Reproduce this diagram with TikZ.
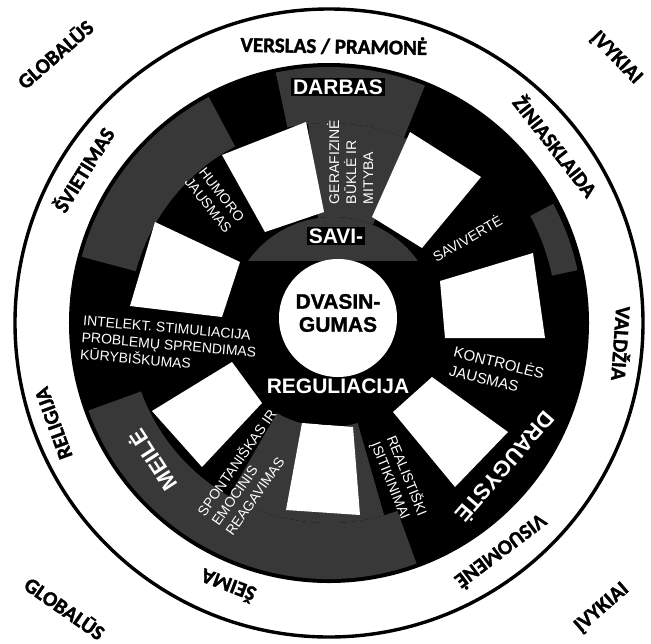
\documentclass[tikz,border=0pt]{standalone}
\usepackage{fontspec}
\setmainfont{Liberation Sans}
\newfontfamily\ringfont{Carlito}[BoldFeatures={FakeBold=1.6}]
\newfontfamily\heavyfont{Liberation Sans}[BoldFeatures={FakeBold=1.4}]
\usetikzlibrary{calc}

\definecolor{stipple}{gray}{0.22}

\tikzset{
  ringlabel/.style={font=\ringfont\bfseries\fontsize{10.5}{12}\selectfont, inner sep=0pt},
  headlabel/.style={text=white, font=\bfseries\fontsize{10.5}{12}\selectfont, inner sep=1pt},
  spokelabel/.style={text=white, font=\fontsize{7}{8.5}\selectfont, inner sep=0pt},
  corelabel/.style={align=center, font=\heavyfont\bfseries\fontsize{10.5}{11.5}\selectfont},
  window/.style={fill=white},
}

\begin{document}
\begin{tikzpicture}[x=0.5pt,y=0.5pt]
\useasboundingbox (-329,-320) rectangle (322,323);

\def \RingRadius {314}
\def \DiskRadius {260}
\def \BandRadius {200}
\def \HubRadius {104}
\def \CoreRadius {59}

% outer ring and black disk
\draw[line width=1.7pt] (0,0) circle[radius=\RingRadius];
\fill (0,0) circle[radius=\DiskRadius];

% stippled zones
\foreach \a/\b/\r/\R in {118/165/200/256, 68/102/200/256, 66/96/104/200,%
    12/28/228/254, 200/290/200/256, 240/286/104/200}{
  \fill[stipple] (\a:\r) arc[start angle=\a, end angle=\b, radius=\r]
    -- (\b:\R) arc[start angle=\b, end angle=\a, radius=\R] -- cycle;}

% windows between the spokes
\fill[window] (-107,168) -- (-23,201) -- (-5,111) -- (-64,91) -- cycle;
\fill[window] (81,191) -- (152,146) -- (93,75) -- (43,106) -- cycle;
\fill[window] (111,42) -- (204,70) -- (216,-15) -- (116,-15) -- cycle;
\fill[window] (103,-54) -- (179,-109) -- (126,-164) -- (64,-89) -- cycle;
\fill[window] (-27,-100) -- (24,-104) -- (31,-192) -- (-43,-187) -- cycle;
\fill[window] (-97,-39) -- (-67,-80) -- (-127,-144) -- (-177,-88) -- cycle;
\fill[window] (-174,101) -- (-89,61) -- (-107,6) -- (-199,17) -- cycle;

% hub and core
\fill (4,2) circle[radius=\HubRadius];
\begin{scope}
  \clip (-120,63) rectangle (120,120);
  \fill[stipple] (4,2) circle[radius=\HubRadius];
\end{scope}
\fill[white] (9,5) circle[radius=\CoreRadius];

% hub texts
\node[corelabel] (dvasingumas) at (9,10) {DVASIN-\\GUMAS};
\node[headlabel, fill=black] (savi) at (7,87) {SAVI-};
\node[headlabel] (reguliacija) at (9,-63) {REGULIACIJA};

% spoke texts
\node[headlabel, fill=black] (darbas) at (9,236) {DARBAS};
\node[headlabel, font=\bfseries\fontsize{11}{13}\selectfont, rotate=123] (meile) at (-177,-138) {MEILĖ};
\node[headlabel, font=\bfseries\fontsize{11}{13}\selectfont, rotate=-131] (draugyste) at (177,-145) {DRAUGYSTĖ};
\node[spokelabel, rotate=90, align=left] (fizine) at (21,161) {GERAFIZINĖ\\BŪKLĖ IR\\MITYBA};
\node[spokelabel, rotate=-52, align=center] (humoras) at (-114,123) {HUMORO\\JAUSMAS};
\node[spokelabel, rotate=-5, align=left] (intelektas) at (-160,-22) {INTELEKT. STIMULIACIJA\\PROBLEMŲ SPRENDIMAS\\KŪRYBIŠKUMAS};
\node[spokelabel, rotate=30] (saviverte) at (138,85) {SAVIVERTĖ};
\node[spokelabel, font=\fontsize{7.5}{9.5}\selectfont, rotate=-14, align=left] (kontrole) at (168,-48) {KONTROLĖS\\JAUSMAS};
\node[spokelabel, rotate=-68, align=left] (isitikinimai) at (70,-156) {REALISTIŠKI\\ĮSITIKINIMAI};
\node[spokelabel, rotate=55, align=left] (reagavimas) at (-79,-149) {SPONTANIŠKAS IR\\EMOCINIS\\REAGAVIMAS};

% ring texts
\foreach \ang/\rad/\txt [count=\i] in {89/278/{VERSLAS / PRAMONĖ}, 38/288/ŽINIASKLAIDA,%
    -4/294/VALDŽIA, -53/287/VISUOMENĖ, 249/282/ŠEIMA, 200/293/RELIGIJA, 148/290/ŠVIETIMAS}{
  \node[ringlabel, rotate=\ang-90] (ring\i) at (\ang:\rad) {\txt};}

% outside texts
\node[ringlabel, rotate=41] (globalus1) at (-274,269) {GLOBALŪS};
\node[ringlabel, rotate=-46] (ivykiai1) at (287,265) {ĮVYKIAI};
\node[ringlabel, rotate=-35] (globalus2) at (-264,-285) {GLOBALŪS};
\node[ringlabel, rotate=41] (ivykiai2) at (273,-285) {ĮVYKIAI};

\end{tikzpicture}
\end{document}
